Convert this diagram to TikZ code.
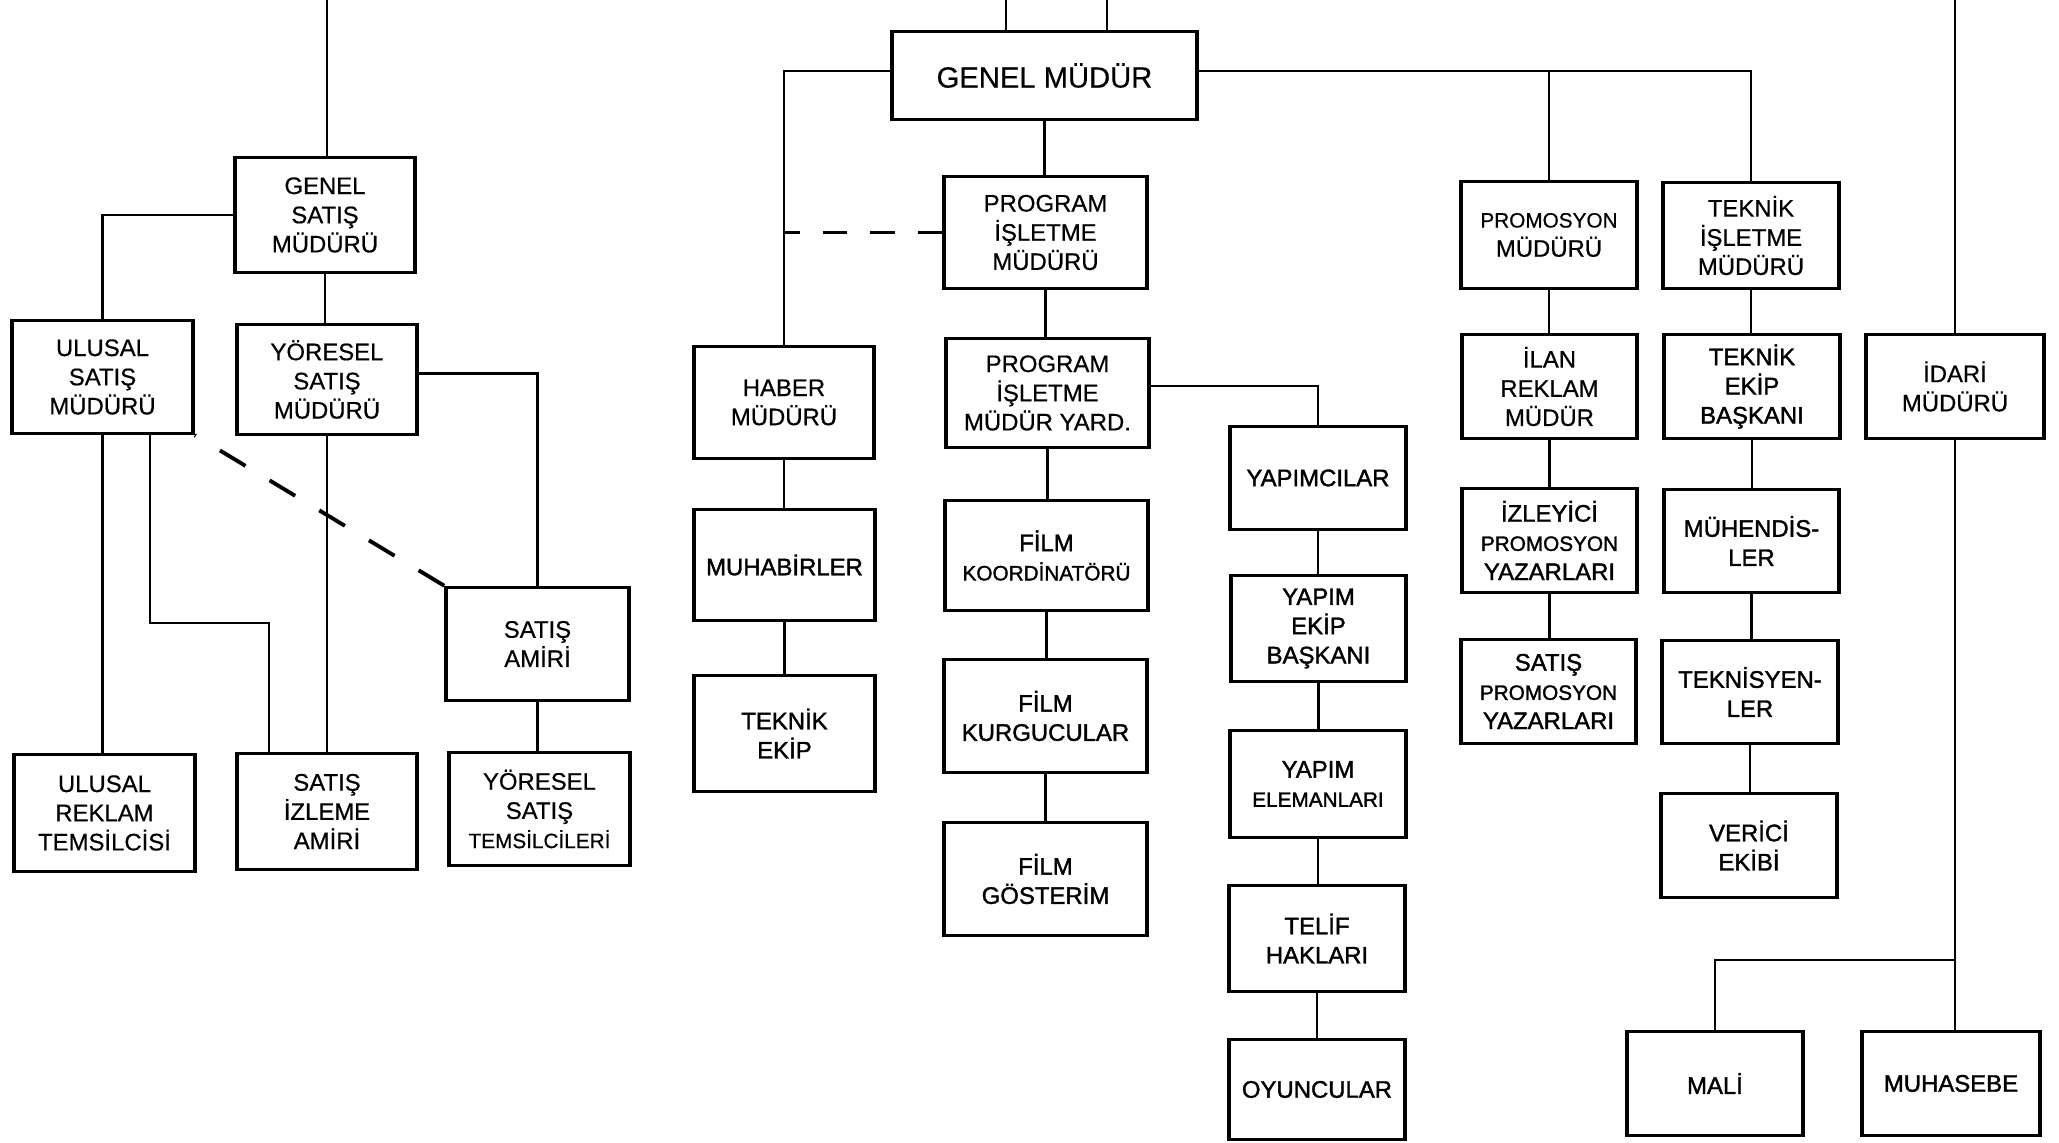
\documentclass[tikz,border=0pt]{standalone}
\usepackage{fontspec}
\setmainfont{Liberation Sans}[FakeBold=0.5]
\newfontfamily\heavyfont{Liberation Sans}[FakeBold=1.5]

% type sizes: normal box text, reduced lines, the top box
\newcommand{\txn}{\fontsize{6.8}{8.3}\selectfont}
\newcommand{\txs}{\fontsize{5.9}{8.3}\selectfont}
\newcommand{\txl}{\fontsize{8.3}{10}\selectfont}

\tikzset{
  orgbox/.style={draw, line width=1pt, inner sep=0pt, align=center, font=\txn},
  heavy/.style={font=\heavyfont\txn},
  large/.style={font=\txl},
  link/.style={line width=0.8pt},
  dashlink/.style={line width=1.1pt, dash pattern=on 8.5pt off 8pt},
  hdashlink/.style={line width=1pt, dash pattern=on 7pt off 6.5pt},
}

% box given by its corners (x1,y1) (x2,y2), in picture units
\newcommand{\orgnode}[7]{%
  \node[orgbox, #1,
        minimum width={(#5-#3)*0.01cm},
        minimum height={(#6-#4)*0.01cm}]
    (#2) at ({(#3+#5)/2},{(#4+#6)/2+1.5}) {#7};}

\begin{document}
\begin{tikzpicture}[x=0.01cm, y=-0.01cm]
\fill[white] (0,0) rectangle (2059,1143);
\useasboundingbox (0,0) rectangle (2059,1143);

% ---------- sales branch ----------
\orgnode{}{gsm}{235}{156}{415}{271}{GENEL\\SATIŞ\\MÜDÜRÜ}
\orgnode{}{usm}{12}{319}{193}{432}{ULUSAL\\SATIŞ\\MÜDÜRÜ}
\orgnode{}{ysm}{237}{323}{417}{433}{YÖRESEL\\SATIŞ\\MÜDÜRÜ}
\orgnode{}{sa}{446}{586}{629}{699}{SATIŞ\\AMİRİ}
\orgnode{}{urt}{14}{753}{195}{870}{ULUSAL\\REKLAM\\TEMSİLCİSİ}
\orgnode{}{sia}{237}{752}{417}{868}{SATIŞ\\İZLEME\\AMİRİ}
\orgnode{}{yst}{449}{751}{630}{864}{YÖRESEL\\SATIŞ\\{\txs TEMSİLCİLERİ}}

% ---------- general manager and programme branch ----------
\orgnode{large}{gm}{892}{30}{1197}{118}{GENEL MÜDÜR}
\orgnode{}{pim}{944}{175}{1147}{287}{PROGRAM\\İŞLETME\\MÜDÜRÜ}
\orgnode{}{pimy}{946}{337}{1149}{446}{PROGRAM\\İŞLETME\\MÜDÜR YARD.}
\orgnode{}{haber}{694}{345}{874}{457}{HABER\\MÜDÜRÜ}
\orgnode{heavy}{muhabir}{694}{508}{875}{619}{MUHABİRLER}
\orgnode{heavy}{tekip}{694}{674}{875}{790}{TEKNİK\\EKİP}
\orgnode{heavy}{fk}{945}{499}{1148}{609}{FİLM\\{\txs KOORDİNATÖRÜ}}
\orgnode{heavy}{fku}{944}{658}{1147}{771}{FİLM\\KURGUCULAR}
\orgnode{heavy}{fg}{944}{821}{1147}{934}{FİLM\\GÖSTERİM}
\orgnode{heavy}{yap}{1230}{425}{1406}{528}{YAPIMCILAR}
\orgnode{heavy}{yeb}{1231}{574}{1406}{680}{YAPIM\\EKİP\\BAŞKANI}
\orgnode{heavy}{yel}{1230}{729}{1406}{836}{YAPIM\\{\txs ELEMANLARI}}
\orgnode{heavy}{tel}{1229}{884}{1405}{990}{TELİF\\HAKLARI}
\orgnode{heavy}{oyu}{1229}{1038}{1405}{1138}{OYUNCULAR}

% ---------- promotion, technical and administration ----------
\orgnode{}{prom}{1461}{180}{1637}{287}{{\txs PROMOSYON}\\MÜDÜRÜ}
\orgnode{}{tim}{1663}{181}{1839}{287}{TEKNİK\\İŞLETME\\MÜDÜRÜ}
\orgnode{}{ilan}{1462}{333}{1637}{437}{İLAN\\REKLAM\\MÜDÜR}
\orgnode{heavy}{teb}{1664}{333}{1840}{437}{TEKNİK\\EKİP\\BAŞKANI}
\orgnode{}{idari}{1866}{333}{2044}{437}{İDARİ\\MÜDÜRÜ}
\orgnode{heavy}{izl}{1462}{487}{1637}{591}{İZLEYİCİ\\{\txs PROMOSYON}\\YAZARLARI}
\orgnode{heavy}{spy}{1461}{638}{1636}{742}{SATIŞ\\{\txs PROMOSYON}\\YAZARLARI}
\orgnode{heavy}{muhen}{1664}{488}{1839}{591}{MÜHENDİS-\\LER}
\orgnode{heavy}{teks}{1662}{639}{1838}{742}{TEKNİSYEN-\\LER}
\orgnode{heavy}{ver}{1661}{792}{1837}{896}{VERİCİ\\EKİBİ}
\orgnode{heavy}{mali}{1627}{1030}{1803}{1134}{MALİ}
\orgnode{heavy}{muhas}{1862}{1030}{2040}{1134}{MUHASEBE}

% ---------- free ends at the upper edge and bends ----------
\coordinate (tL) at (327,0);
\coordinate (tM1) at (1006,0);
\coordinate (tM2) at (1107,0);
\coordinate (tR) at (1955,0);
\coordinate (elbowA) at (150,623);
\coordinate (elbowB) at (269,623);
\coordinate (fork) at (1955,960);
\coordinate (gmline) at (1500,71);

% sales connectors
\draw[link] (tL) -- (tL |- gsm.north);
\draw[link] (gsm.west) -| (usm.north);
\draw[link] (gsm.south) -- (gsm.south |- ysm.north);
\draw[link] ([yshift=0.06cm]ysm.east) -| (sa.north);
\draw[link] (sa.south) -- (sa.south |- yst.north);
\draw[link] (usm.south) -- (usm.south |- urt.north);
\draw[link] (usm.south -| elbowA) -- (elbowA) -- (elbowB) -- (elbowB |- sia.north);
\draw[link] (ysm.south) -- (ysm.south |- sia.north);
\draw[dashlink] (sa.north west) -- (usm.south east);

% programme connectors
\draw[link] (tM1) -- (tM1 |- gm.north);
\draw[link] (tM2) -- (tM2 |- gm.north);
\draw[link] (gm.west |- gmline) -| (haber.north);
\draw[hdashlink] (pim.west) -- (pim.west -| haber.north);
\draw[link] (gm.south) -- (gm.south |- pim.north);
\draw[link] (pim.south) -- (pim.south |- pimy.north);
\draw[link] (pimy.south) -- (pimy.south |- fk.north);
\draw[link] (fk.south) -- (fk.south |- fku.north);
\draw[link] (fku.south) -- (fku.south |- fg.north);
\draw[link] (haber.south) -- (haber.south |- muhabir.north);
\draw[link] (muhabir.south) -- (muhabir.south |- tekip.north);
\draw[link] ([yshift=0.07cm]pimy.east) -| (yap.north);
\draw[link] (yap.south) -- (yap.south |- yeb.north);
\draw[link] (yeb.south) -- (yeb.south |- yel.north);
\draw[link] (yel.south) -- (yel.south |- tel.north);
\draw[link] (tel.south) -- (tel.south |- oyu.north);

% promotion, technical and administration connectors
\draw[link] (gm.east |- gmline) -| (tim.north);
\draw[link] (prom.north) -- (prom.north |- gmline);
\draw[link] (prom.south) -- (prom.south |- ilan.north);
\draw[link] (ilan.south) -- (ilan.south |- izl.north);
\draw[link] (izl.south) -- (izl.south |- spy.north);
\draw[link] (tim.south) -- (tim.south |- teb.north);
\draw[link] (teb.south) -- (teb.south |- muhen.north);
\draw[link] (muhen.south) -- (muhen.south |- teks.north);
\draw[link] (teks.south) -- (teks.south |- ver.north);
\draw[link] (tR) -- (tR |- idari.north);
\draw[link] (idari.south) -- (idari.south |- muhas.north);
\draw[link] (mali.north) |- (idari.south |- fork);
\end{tikzpicture}
\end{document}
